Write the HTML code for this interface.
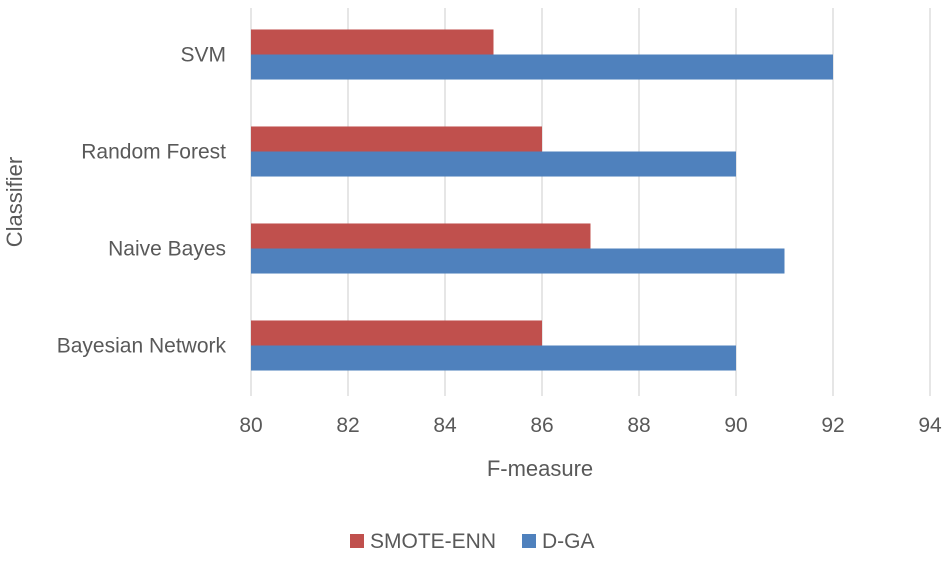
<!DOCTYPE html>
<html><head><meta charset="utf-8"><style>
html,body{margin:0;padding:0;background:#fff;}
svg text{font-family:"Liberation Sans",sans-serif;fill:#595959;}
</style></head><body>
<svg id="chart" width="948" height="556" viewBox="0 0 948 556" xmlns="http://www.w3.org/2000/svg">
<g id="grid"></g>
<g id="bars"></g>
<g id="xticks"></g>
<g id="ylabels"></g>
<text x="540" y="476" font-size="22" text-anchor="middle">F-measure</text>
<text transform="translate(22,202) rotate(-90)" font-size="22" text-anchor="middle">Classifier</text>
<g>
<rect x="350" y="534" width="14" height="14" fill="#C0504D"/>
<text x="370" y="548" font-size="21">SMOTE-ENN</text>
<rect x="522" y="534" width="14" height="14" fill="#4F81BD"/>
<text x="542" y="548" font-size="21">D-GA</text>
</g>
</svg>
<script>
const categories = ["SVM", "Random Forest", "Naive Bayes", "Bayesian Network"];
const smoteEnn = [85, 86, 87, 86];
const dga = [92, 90, 91, 90];
const ticks = [80, 82, 84, 86, 88, 90, 92, 94];

const NS = "http://www.w3.org/2000/svg";
const plotX0 = 251, plotX1 = 930, plotTop = 6, plotBottom = 394, gridBottom = 396;
const xMin = 80, xMax = 94;
const xs = v => plotX0 + (v - xMin) / (xMax - xMin) * (plotX1 - plotX0);
const band = (plotBottom - plotTop) / categories.length;
const ys = i => plotTop + i * band;
function mk(tag, attrs, parent) {
  const e = document.createElementNS(NS, tag);
  for (const k in attrs) e.setAttribute(k, attrs[k]);
  parent.appendChild(e);
  return e;
}
const grid = document.getElementById("grid");
const xt = document.getElementById("xticks");
ticks.forEach(t => {
  const l = mk("line", {x1: xs(t), x2: xs(t), y1: 8, y2: gridBottom, stroke: "#D9D9D9", "stroke-width": 1.3}, grid);
  
  
  const tx = mk("text", {x: xs(t), y: 432, "font-size": 21, "text-anchor": "middle"}, xt);
  tx.textContent = t;
  
  
});
const bars = document.getElementById("bars");
const yl = document.getElementById("ylabels");
const bh = band * 0.258;
categories.forEach((c, i) => {
  const cy = ys(i) + band / 2;
  const r = mk("rect", {x: xs(xMin), y: cy - bh, width: xs(smoteEnn[i]) - xs(xMin), height: bh, fill: "#C0504D"}, bars);
  
  
  const b = mk("rect", {x: xs(xMin), y: cy, width: xs(dga[i]) - xs(xMin), height: bh, fill: "#4F81BD"}, bars);
  
  
  const t = mk("text", {x: 226, y: cy + 7, "font-size": 21, "text-anchor": "end"}, yl);
  t.textContent = c;
  
  
});
</script>
</body></html>
